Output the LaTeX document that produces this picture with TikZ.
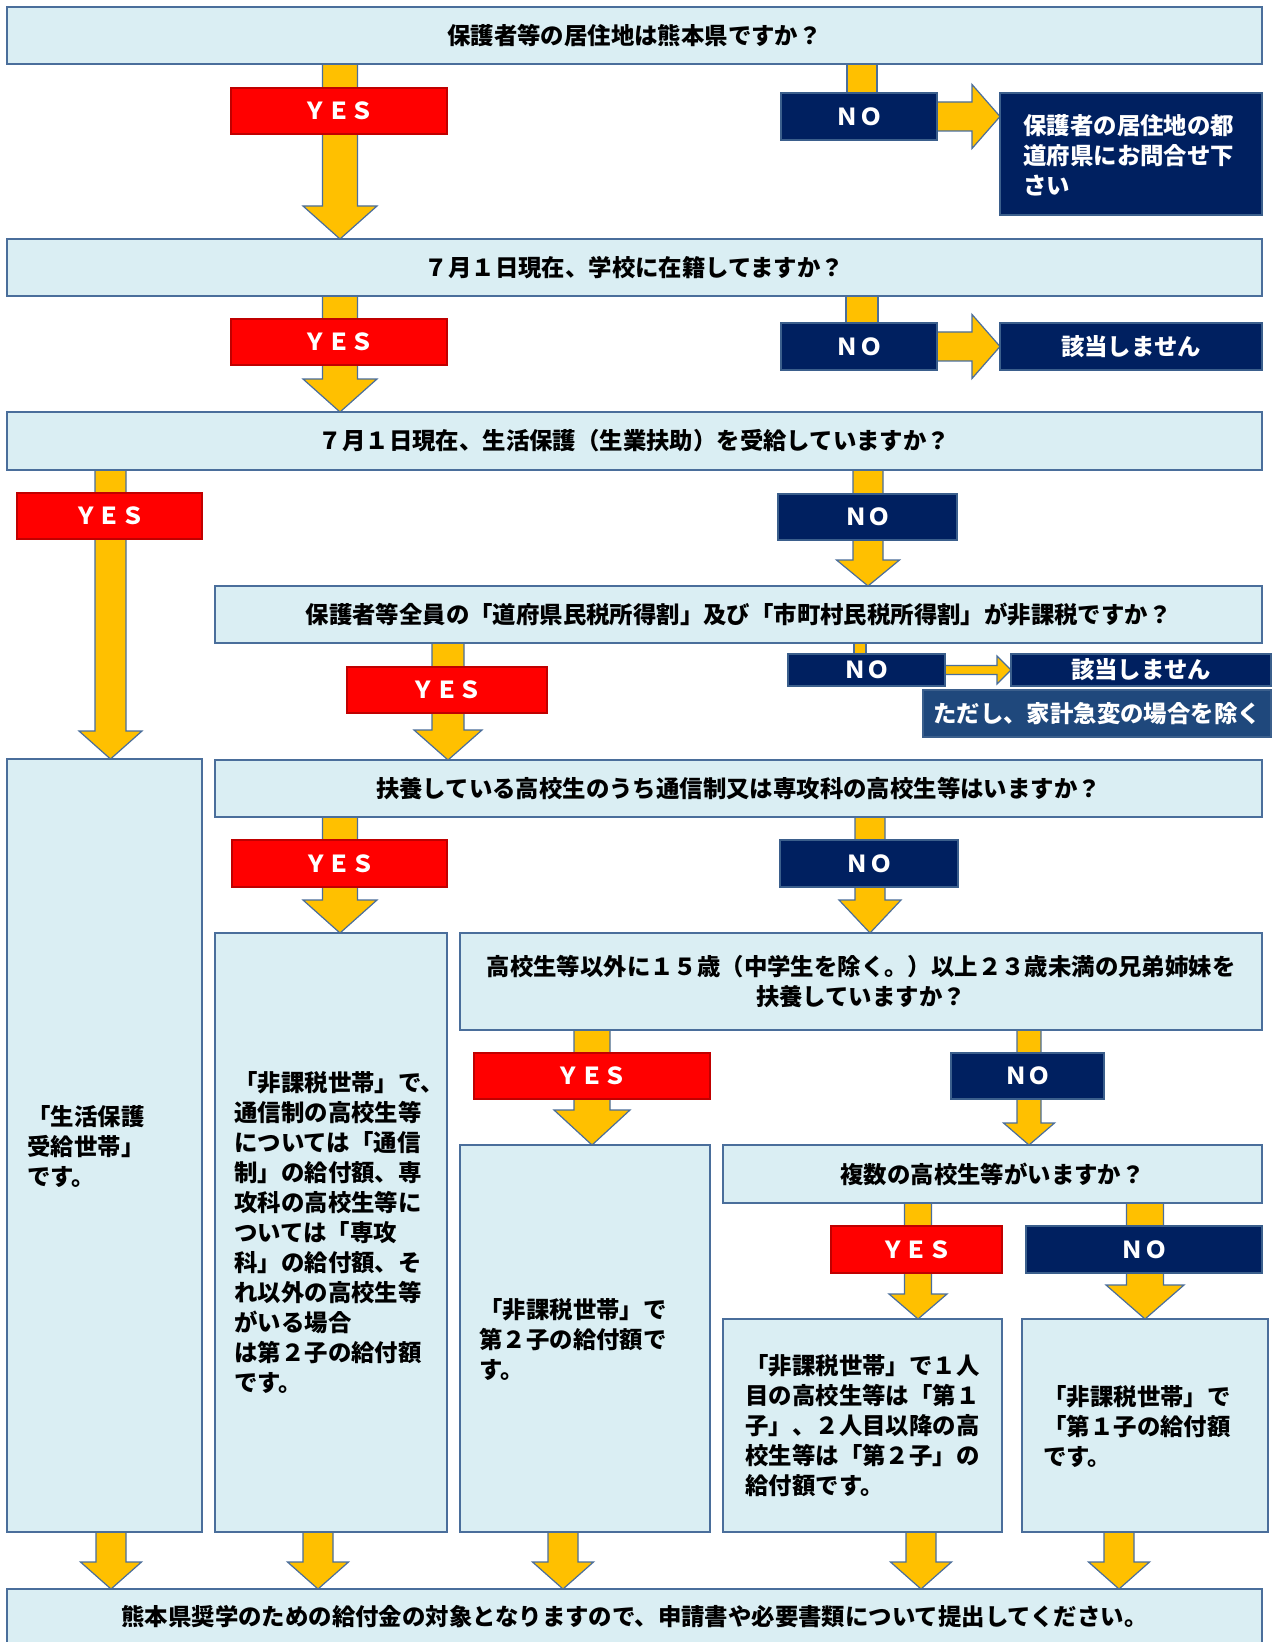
\documentclass[tikz,border=0pt]{standalone}
\usepackage{fontspec}
\setmainfont{Noto Sans CJK JP}
\usetikzlibrary{calc}
\definecolor{qfill}{HTML}{DAEEF3}
\definecolor{qline}{HTML}{4A6E9B}
\definecolor{ylw}{HTML}{FFC000}
\definecolor{redf}{HTML}{FF0000}
\definecolor{redl}{HTML}{C00000}
\definecolor{navy}{HTML}{002060}
\definecolor{navyl}{HTML}{3B5F8C}
\definecolor{notef}{HTML}{1F487C}
\pgfdeclarelayer{bg}
\pgfsetlayers{bg,main}
\tikzset{
 txt/.style={font=\fontsize{11.7}{15}\selectfont\bfseries, inner sep=0pt},
 base/.style={rectangle, draw, line width=0.8pt, inner sep=0pt, outer sep=0pt, txt},
 qbox/.style={base, fill=qfill, draw=qline, align=center},
 yesbox/.style={base, fill=redf, draw=redl, line width=1.3pt, text=white},
 nobox/.style={base, fill=navy, draw=navyl, line width=1.3pt, text=white},
 notebox/.style={base, fill=notef, draw=navyl, line width=1.3pt, text=white},
 arr/.style={fill=ylw, draw=qline, line width=0.6pt, line join=miter},
}
\newcommand\mybox[7]{\node[#1, minimum width={(#5-#3)*0.5pt}, minimum height={(#6-#4)*0.5pt}] (#2) at ({(#3+#5)/2},{(#4+#6)/2}) {#7};}
\newcommand\varr[6]{\path[arr] let \p1=(#5.south), \p2=(#6.north) in
  ({(#1-#2)*0.5pt},\y1) -- ({(#1+#2)*0.5pt},\y1) -- ({(#1+#2)*0.5pt},{\y2+#4*0.5pt}) -- ({(#1+#3)*0.5pt},{\y2+#4*0.5pt}) -- ({#1*0.5pt},\y2) -- ({(#1-#3)*0.5pt},{\y2+#4*0.5pt}) -- ({(#1-#2)*0.5pt},{\y2+#4*0.5pt}) -- cycle;}
\newcommand\harr[5]{\path[arr] let \p1=(#4.east), \p2=(#5.west) in
  (\x1,{\y1+#1*0.5pt}) -- ({\x2-#3*0.5pt},{\y1+#1*0.5pt}) -- ({\x2-#3*0.5pt},{\y1+#2*0.5pt}) -- (\x2,\y1) -- ({\x2-#3*0.5pt},{\y1-#2*0.5pt}) -- ({\x2-#3*0.5pt},{\y1-#1*0.5pt}) -- (\x1,{\y1-#1*0.5pt}) -- cycle;}
\newcommand\vbar[4]{\path[arr] let \p1=(#3.south), \p2=(#4.north) in ({(#1-#2)*0.5pt},\y1) rectangle ({(#1+#2)*0.5pt},\y2);}
\begin{document}
\begin{tikzpicture}[x=0.5pt,y=-0.5pt]
\useasboundingbox (0,0) rectangle (1271,1642);
\begin{pgfonlayer}{bg}
\fill[white] (0,0) rectangle (1271,1642);
\end{pgfonlayer}
% row 1
\mybox{qbox}{q1}{7}{7}{1262}{64}{保護者等の居住地は熊本県ですか？}
\mybox{yesbox}{y1}{231}{88}{447}{134}{ＹＥＳ}
\mybox{nobox}{n1}{781}{93}{937}{140}{ＮＯ}
\mybox{nobox}{r1}{1000}{93}{1262}{215}{}
\node[txt, text=white, align=left, anchor=west] (r1t) at (1023,155) {保護者の居住地の都\\道府県にお問合せ下\\さい};
% row 2
\mybox{qbox}{q2}{7}{239}{1262}{296}{７月１日現在、学校に在籍してますか？}
\mybox{yesbox}{y2}{231}{319}{447}{365}{ＹＥＳ}
\mybox{nobox}{n2}{781}{323}{937}{370}{ＮＯ}
\mybox{nobox}{r2}{1000}{323}{1262}{370}{該当しません}
% row 3
\mybox{qbox}{q3}{7}{412}{1262}{470}{７月１日現在、生活保護（生業扶助）を受給していますか？}
\mybox{yesbox}{y3}{17}{493}{202}{539}{ＹＥＳ}
\mybox{nobox}{n3}{778}{494}{957}{540}{ＮＯ}
% row 4
\mybox{qbox}{q4}{215}{586}{1262}{643}{保護者等全員の「道府県民税所得割」及び「市町村民税所得割」が非課税ですか？}
\mybox{yesbox}{y4}{347}{667}{547}{713}{ＹＥＳ}
\mybox{nobox}{n4}{788}{654}{945}{686}{ＮＯ}
\mybox{nobox}{r4}{1011}{654}{1271}{686}{該当しません}
\mybox{notebox}{r4b}{923}{690}{1271}{737}{ただし、家計急変の場合を除く}
% row 5
\mybox{qbox}{a}{7}{759}{202}{1532}{}
\node[txt, align=left, anchor=west] (at) at (27,1146) {「生活保護\\受給世帯」\\です。};
\mybox{qbox}{q5}{215}{760}{1262}{817}{扶養している高校生のうち通信制又は専攻科の高校生等はいますか？}
\mybox{yesbox}{y5}{232}{840}{447}{887}{ＹＥＳ}
\mybox{nobox}{n5}{780}{840}{958}{887}{ＮＯ}
% row 6
\mybox{qbox}{b}{215}{933}{447}{1532}{}
\node[txt, align=left, anchor=west] (bt) at (234,1232) {「非課税世帯」で、\\通信制の高校生等\\については「通信\\制」の給付額、専\\攻科の高校生等に\\ついては「専攻\\科」の給付額、そ\\れ以外の高校生等\\がいる場合\\は第２子の給付額\\です。};
\mybox{qbox}{q6}{460}{933}{1262}{1030}{高校生等以外に１５歳（中学生を除く。）以上２３歳未満の兄弟姉妹を\\扶養していますか？}
\mybox{yesbox}{y6}{474}{1053}{710}{1099}{ＹＥＳ}
\mybox{nobox}{n6}{951}{1053}{1104}{1099}{ＮＯ}
% row 7
\mybox{qbox}{c}{460}{1145}{710}{1532}{}
\node[txt, align=left, anchor=west] (ct) at (479,1339) {「非課税世帯」で\\第２子の給付額で\\す。};
\mybox{qbox}{q7}{723}{1145}{1262}{1203}{複数の高校生等がいますか？}
\mybox{yesbox}{y7}{831}{1226}{1002}{1273}{ＹＥＳ}
\mybox{nobox}{n7}{1026}{1226}{1262}{1273}{ＮＯ}
\mybox{qbox}{d}{723}{1319}{1002}{1532}{}
\node[txt, align=left, anchor=west] (dt) at (745,1426) {「非課税世帯」で１人\\目の高校生等は「第１\\子」、２人目以降の高\\校生等は「第２子」の\\給付額です。};
\mybox{qbox}{e}{1022}{1319}{1268}{1532}{}
\node[txt, align=left, anchor=west] (et) at (1043,1426) {「非課税世帯」で\\「第１子の給付額\\です。};
% final
\mybox{qbox}{f}{7}{1589}{1262}{1645}{熊本県奨学のための給付金の対象となりますので、申請書や必要書類について提出してください。}
% arrows
\begin{pgfonlayer}{bg}
\varr{340}{17.5}{37}{33}{q1}{q2}
\vbar{862}{15}{q1}{n1}
\harr{14.5}{32}{28}{n1}{r1}
\varr{340}{17.5}{37}{33}{q2}{q3}
\vbar{862}{16}{q2}{n2}
\harr{14.5}{32}{28}{n2}{r2}
\varr{110.5}{15.5}{31.5}{28}{q3}{a}
\varr{868}{15}{31.5}{26}{q3}{q4}
\varr{448}{16}{34}{30}{q4}{q5}
\vbar{860}{6}{q4}{n4}
\harr{4.5}{14}{14}{n4}{r4}
\varr{340}{17.5}{37}{33}{q5}{b}
\varr{870}{15}{31}{33}{q5}{q6}
\varr{592}{18}{38}{35}{q6}{c}
\varr{1029}{12}{25.5}{22}{q6}{q7}
\varr{918}{13.5}{29}{25}{q7}{d}
\varr{1145}{18.5}{39}{34}{q7}{e}
\varr{111}{15}{30.5}{27}{a}{f}
\varr{318}{15}{30.5}{27}{b}{f}
\varr{563}{15}{30.5}{27}{c}{f}
\varr{921}{15}{30.5}{27}{d}{f}
\varr{1119}{15}{30.5}{27}{e}{f}
\end{pgfonlayer}
\end{tikzpicture}
\end{document}
